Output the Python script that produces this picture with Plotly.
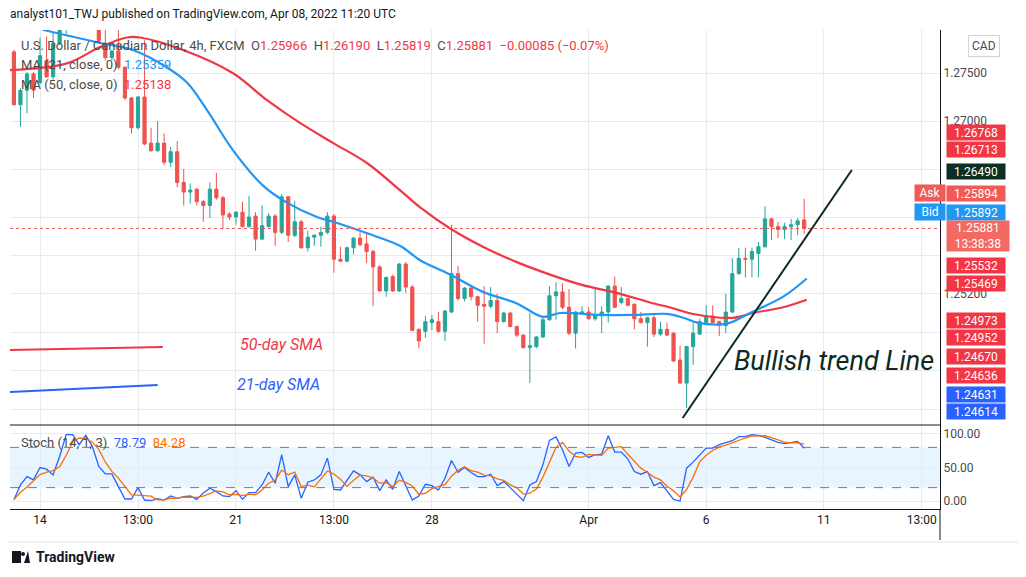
import plotly.graph_objects as go
import pandas as pd

# ---------------- data ----------------
opens = [1.2772,1.2717,1.2732,1.2749,1.2740,1.2763,1.2746,1.2781,1.2797,1.2810,1.2803,1.2816,1.2805,1.2811,1.2781,1.2766,1.2773,1.2756,1.2724,1.2693,
         1.2725,1.2677,1.2669,1.2677,1.2657,1.2668,1.2636,1.2626,1.2629,1.2616,1.2612,1.2629,1.2620,1.2603,1.2600,1.2605,1.2590,1.2601,1.2577,1.2590,
         1.2601,1.2584,1.2621,1.2581,1.2595,1.2568,1.2579,1.2581,1.2584,1.2601,1.2556,1.2554,1.2568,1.2578,1.2572,1.2564,1.2548,1.2523,1.2538,1.2523,
         1.2551,1.2527,1.2483,1.2481,1.2490,1.2491,1.2481,1.2501,1.2541,1.2515,1.2526,1.2517,1.2509,1.2507,1.2513,1.2491,1.2500,1.2486,1.2477,1.2464,
         1.2465,1.2475,1.2493,1.2518,1.2522,1.2506,1.2479,1.2500,1.2501,1.2494,1.2497,1.2501,1.2528,1.2511,1.2515,1.2509,1.2494,1.2490,1.2495,1.2478,
         1.2483,1.2479,1.2451,1.2427,1.2465,1.2478,1.2490,1.2497,1.2491,1.2487,1.2501,1.2541,1.2557,1.2556,1.2562,1.2569,1.2598,1.2590,1.2587,1.2590,
         1.2592,1.2597]
highs = [1.2774,1.2734,1.2751,1.2751,1.2787,1.2788,1.2792,1.2805,1.2816,1.2818,1.2821,1.2821,1.2818,1.2816,1.2795,1.2774,1.2795,1.2757,1.2725,1.2726,
         1.2784,1.2693,1.2700,1.2687,1.2673,1.2679,1.2650,1.2635,1.2630,1.2618,1.2636,1.2646,1.2622,1.2605,1.2606,1.2616,1.2622,1.2605,1.2612,1.2604,
         1.2603,1.2624,1.2622,1.2617,1.2597,1.2586,1.2582,1.2590,1.2605,1.2603,1.2569,1.2569,1.2579,1.2584,1.2584,1.2566,1.2550,1.2538,1.2540,1.2552,
         1.2553,1.2529,1.2484,1.2497,1.2498,1.2501,1.2503,1.2592,1.2549,1.2527,1.2527,1.2518,1.2528,1.2527,1.2520,1.2501,1.2501,1.2487,1.2478,1.2500,
         1.2476,1.2495,1.2528,1.2532,1.2531,1.2525,1.2502,1.2507,1.2506,1.2525,1.2507,1.2529,1.2538,1.2527,1.2516,1.2510,1.2501,1.2496,1.2500,1.2491,
         1.2490,1.2480,1.2466,1.2466,1.2490,1.2494,1.2508,1.2508,1.2492,1.2520,1.2557,1.2568,1.2568,1.2568,1.2574,1.2611,1.2599,1.2595,1.2594,1.2598,
         1.2599,1.2619]
lows = [1.2716,1.2694,1.2708,1.2724,1.2738,1.2745,1.2743,1.2779,1.2790,1.2795,1.2797,1.2800,1.2799,1.2782,1.2763,1.2763,1.2754,1.2722,1.2687,1.2691,
        1.2675,1.2668,1.2668,1.2654,1.2652,1.2631,1.2612,1.2614,1.2612,1.2595,1.2599,1.2618,1.2587,1.2597,1.2592,1.2589,1.2589,1.2565,1.2576,1.2589,
        1.2570,1.2582,1.2574,1.2579,1.2567,1.2564,1.2570,1.2569,1.2582,1.2542,1.2553,1.2553,1.2561,1.2570,1.2552,1.2507,1.2522,1.2517,1.2522,1.2522,
        1.2521,1.2481,1.2463,1.2474,1.2482,1.2479,1.2471,1.2500,1.2513,1.2512,1.2513,1.2491,1.2468,1.2505,1.2479,1.2490,1.2485,1.2475,1.2463,1.2427,
        1.2463,1.2474,1.2492,1.2493,1.2504,1.2477,1.2463,1.2499,1.2493,1.2492,1.2479,1.2490,1.2505,1.2509,1.2507,1.2483,1.2489,1.2465,1.2475,1.2476,
        1.2476,1.2449,1.2426,1.2401,1.2446,1.2477,1.2489,1.2489,1.2476,1.2479,1.2500,1.2540,1.2537,1.2537,1.2537,1.2568,1.2576,1.2578,1.2577,1.2576,
        1.2581,1.2582]
closes = [1.2717,1.2732,1.2749,1.2732,1.2768,1.2746,1.2781,1.2797,1.2810,1.2803,1.2816,1.2805,1.2811,1.2784,1.2766,1.2773,1.2756,1.2724,1.2693,1.2725,
          1.2676,1.2669,1.2677,1.2657,1.2668,1.2636,1.2626,1.2628,1.2616,1.2612,1.2629,1.2620,1.2602,1.2600,1.2605,1.2590,1.2600,1.2577,1.2591,1.2601,
          1.2584,1.2621,1.2581,1.2595,1.2568,1.2579,1.2581,1.2584,1.2601,1.2556,1.2554,1.2568,1.2578,1.2571,1.2564,1.2548,1.2523,1.2537,1.2523,1.2551,
          1.2527,1.2482,1.2471,1.2491,1.2493,1.2481,1.2502,1.2541,1.2515,1.2526,1.2517,1.2508,1.2507,1.2513,1.2491,1.2500,1.2486,1.2477,1.2464,1.2466,
          1.2475,1.2493,1.2518,1.2522,1.2506,1.2479,1.2501,1.2501,1.2494,1.2498,1.2501,1.2528,1.2506,1.2515,1.2508,1.2494,1.2490,1.2495,1.2478,1.2483,
          1.2477,1.2450,1.2427,1.2465,1.2479,1.2491,1.2497,1.2490,1.2487,1.2501,1.2541,1.2557,1.2556,1.2564,1.2569,1.2598,1.2590,1.2587,1.2590,1.2592,
          1.2596,1.25881]

ma21_x = [4.4,12.7,18.2,23.4,26.5,29.6,33.5,38.1,41.8,46.4,48.9,54.1,59.1,62.2,66.8,71.8,77,81,83.6,89.7,94.8,100,102.5,104.6,109.2,112.7,117.8,121.4]
ma21_y = [1.2795,1.2782,1.2774,1.2756,1.2740,1.2711,1.2670,1.2633,1.2615,1.2600,1.2595,1.2583,1.2570,1.2555,1.2540,1.2522,1.2510,1.2496,1.2500,1.2498,1.2498,1.2499,1.2495,1.2490,1.2489,1.2500,1.2517,1.25359]
ma50_x = [-0.6,8.1,13.2,17.3,19.3,25.9,33.5,38.7,43.8,48.9,54.1,59.1,62.2,66.8,71.8,77,82.1,87.1,92.3,97.4,100.9,104,110.1,113.2,117.8,121.4]
ma50_y = [1.2753,1.2760,1.2777,1.2787,1.2787,1.2774,1.2750,1.2722,1.2698,1.2677,1.2656,1.2628,1.2610,1.2588,1.2569,1.2553,1.2540,1.2529,1.2521,1.2511,1.2505,1.2499,1.2495,1.2500,1.2506,1.25138]

stoch_k = [2,24,36.5,31.5,50,47.5,39,66.5,99,99,84,98,81.5,51.5,40.5,40.5,21.5,3,3,20,
           1.5,0.5,3.5,1.5,7.5,4,6.5,7.5,2.5,12,19,14,7.5,6.5,15.5,2.5,12.5,12.5,24,43,
           26.5,69,21.5,39,4,28,31.5,39,64,17.5,16.5,31.5,45,39,29,35.5,15.5,31.5,17.5,44,
           21.5,1.5,7.5,25,23,16.5,34,60.5,43,50,42.5,36.5,36.5,40,23,29,20,10.5,0.5,24,
           29,54,90.5,95.5,76.5,51.5,71.5,72.5,65,69,70,97.5,73,73,63,44,40,44,23,27.5,
           15.5,2.5,0,49,58,68,79,79,84,87,90,96,96,99,98,95,91,87.5,85.5,87,
           89,78.79]

tick_vals = [4,19,34,49,64,88,106,124,139]
tick_text = ["14","13:00","21","13:00","28","Apr","6","11","13:00"]
price_grid = [1.275,1.270,1.265,1.260,1.256,1.252,1.248,1.244,1.240]
price_grid_text = ["1.27500","1.27000","","","","1.25200","","",""]

trend_x = [102.4,128.3]
trend_y = [1.23906,1.26490]
sma50_note_x = [-0.6,22.8]; sma50_note_y = [1.24615,1.24646]
sma21_note_x = [-0.6,22.0]; sma21_note_y = [1.24177,1.24250]

badge_text = ["1.26768","1.26713","1.26490","1.25894","1.25892","1.25532","1.25469","1.24973","1.24952","1.24670","1.24636","1.24631","1.24614"]
badge_pos = [1.26885,1.26708,1.26469,1.26250,1.26052,1.25500,1.25312,1.24917,1.24740,1.24542,1.24354,1.24146,1.23969]
badge_col = ["#f23645","#f23645","#0b2e25","#f05a57","#2196f3","#f23645","#f23645","#f23645","#f23645","#f23645","#f23645","#2962ff","#2962ff"]
last_price = 1.25881

# ---------------- figure ----------------
GREEN = "#26a69a"; RED = "#ef5350"; FONT = "Roboto"
OFF = 8
W, H = 1026 - OFF, 577 - OFF
L, R, T, B = 10, 940, 30, 509

def py(p):
    return (B - p) / (B - T)
def px(p):
    return (p - L) / (R - L)

idx = list(range(len(closes)))
fig = go.Figure()
fig.add_trace(go.Candlestick(x=idx, open=opens, high=highs, low=lows, close=closes,
    increasing=dict(line=dict(color=GREEN, width=1), fillcolor=GREEN),
    decreasing=dict(line=dict(color=RED, width=1), fillcolor=RED),
    whiskerwidth=0, xaxis="x", yaxis="y", showlegend=False, hoverinfo="skip"))
fig.add_trace(go.Scatter(x=ma50_x, y=ma50_y, mode="lines", line=dict(color="#f23645", width=2.2, shape="spline"), xaxis="x", yaxis="y", showlegend=False))
fig.add_trace(go.Scatter(x=ma21_x, y=ma21_y, mode="lines", line=dict(color="#2196f3", width=2.2, shape="spline"), xaxis="x", yaxis="y", showlegend=False))
fig.add_trace(go.Scatter(x=sma50_note_x, y=sma50_note_y, mode="lines", line=dict(color="#f23645", width=2), xaxis="x", yaxis="y", showlegend=False))
fig.add_trace(go.Scatter(x=sma21_note_x, y=sma21_note_y, mode="lines", line=dict(color="#2962ff", width=2), xaxis="x", yaxis="y", showlegend=False))
fig.add_trace(go.Scatter(x=trend_x, y=trend_y, mode="lines", line=dict(color="#0d2a20", width=2), xaxis="x", yaxis="y", showlegend=False))
fig.add_trace(go.Scatter(x=[-0.6, 141.8], y=[last_price, last_price], mode="lines", line=dict(color="#ef5350", width=1, dash="dot"), xaxis="x", yaxis="y", showlegend=False))

stoch_d = pd.Series(stoch_k).rolling(3, min_periods=1).mean().tolist()
fig.add_trace(go.Scatter(x=idx, y=stoch_k, mode="lines", line=dict(color="#2962ff", width=1.3), xaxis="x2", yaxis="y2", showlegend=False))
fig.add_trace(go.Scatter(x=idx, y=stoch_d, mode="lines", line=dict(color="#ff6d00", width=1.3), xaxis="x2", yaxis="y2", showlegend=False))

xr = [-0.6, 141.8]
split = py(425)
fig.update_layout(
    width=W, height=H, margin=dict(l=L - OFF, r=(W + OFF) - R, t=T - OFF, b=(H + OFF) - B),
    paper_bgcolor="white", plot_bgcolor="white", font=dict(family=FONT, size=12, color="#131722"),
    xaxis=dict(domain=[0, 1], anchor="y", range=xr, tickvals=tick_vals, showticklabels=False, showgrid=True,
               gridcolor="#e6ebf2", zeroline=False, rangeslider=dict(visible=False), fixedrange=True),
    xaxis2=dict(domain=[0, 1], anchor="y2", range=xr, tickvals=tick_vals, ticktext=tick_text, showgrid=True,
                gridcolor="#e6ebf2", zeroline=False, ticks="", tickfont=dict(size=12, color="#131722"),
                showline=True, linecolor="#131722", linewidth=1),
    yaxis=dict(domain=[split, 1], range=[1.238333, 1.279479], side="right", tickvals=price_grid, ticktext=price_grid_text,
               gridcolor="#e6ebf2", zeroline=False, showline=True, linecolor="#131722", linewidth=1, ticks="",
               tickfont=dict(size=12, color="#4a4a4a")),
    yaxis2=dict(domain=[0, split], range=[-11.9, 113.4], side="right", tickvals=[0, 50, 100], ticktext=["0.00", "50.00", "100.00"],
                gridcolor="#e6ebf2", zeroline=False, showline=True, linecolor="#131722", linewidth=1, ticks="",
                tickfont=dict(size=12, color="#4a4a4a")),
)
fig.add_shape(type="rect", xref="x2", yref="y2", x0=xr[0], x1=xr[1], y0=20, y1=80, fillcolor="rgba(33,150,243,0.1)", line_width=0, layer="below")
for lv in (20, 80):
    fig.add_shape(type="line", xref="x2", yref="y2", x0=xr[0], x1=xr[1], y0=lv, y1=lv, line=dict(color="#787b86", width=1, dash="dash"))
fig.add_shape(type="line", xref="paper", yref="paper", x0=0, x1=1, y0=split, y1=split, line=dict(color="#131722", width=1))
fig.add_shape(type="line", xref="paper", yref="paper", x0=px(940), x1=px(940), y0=py(540), y1=py(509), line=dict(color="#131722", width=1))

ann = []
ann.append(dict(xref="paper", yref="paper", x=px(8), y=py(14), xanchor="left", yanchor="middle", showarrow=False,
                text="analyst101_TWJ published on TradingView.com, Apr 08, 2022 11:20 UTC", font=dict(size=12, color="#131722")))
red = "#f23645"
ann.append(dict(xref="paper", yref="paper", x=px(19), y=py(46), xanchor="left", yanchor="middle", showarrow=False,
                text=("U.S. Dollar / Canadian Dollar, 4h, FXCM&nbsp;&nbsp;O<span style='color:%s'>1.25966</span>&nbsp;&nbsp;H<span style='color:%s'>1.26190</span>"
                      "&nbsp;&nbsp;L<span style='color:%s'>1.25819</span>&nbsp;&nbsp;C<span style='color:%s'>1.25881&nbsp;&nbsp;−0.00085 (−0.07%%)</span>") % (red, red, red, red),
                font=dict(size=13, color="#4a4a4a")))
ann.append(dict(xref="paper", yref="paper", x=px(19), y=py(65), xanchor="left", yanchor="middle", showarrow=False,
                text="MA (21, close, 0)&nbsp;&nbsp;<span style='color:#2196f3'>1.25359</span>", font=dict(size=13, color="#4a4a4a")))
ann.append(dict(xref="paper", yref="paper", x=px(19), y=py(84), xanchor="left", yanchor="middle", showarrow=False,
                text="MA (50, close, 0)&nbsp;&nbsp;<span style='color:#f23645'>1.25138</span>", font=dict(size=13, color="#4a4a4a")))
ann.append(dict(xref="paper", yref="paper", x=px(19), y=py(442), xanchor="left", yanchor="middle", showarrow=False,
                text="Stoch (14, 1, 3)&nbsp;&nbsp;<span style='color:#2962ff'>78.79</span>&nbsp;&nbsp;<span style='color:#ff6d00'>84.28</span>",
                font=dict(size=13, color="#4a4a4a")))
ann.append(dict(xref="x", yref="y", x=41, y=1.24676, showarrow=False, text="<i>50-day SMA</i>", font=dict(size=16, color="#f23645")))
ann.append(dict(xref="x", yref="y", x=40.5, y=1.24260, showarrow=False, text="<i>21-day SMA</i>", font=dict(size=16, color="#2962ff")))
ann.append(dict(xref="x", yref="y", x=110, y=1.24500, xanchor="left", showarrow=False, text="<i>Bullish trend Line</i>",
                font=dict(size=27, color="#0d2a20")))
for t, p, c in zip(badge_text, badge_pos, badge_col):
    ann.append(dict(xref="paper", yref="y", x=px(946), y=p, xanchor="left", yanchor="middle", showarrow=False,
                    text=t, bgcolor=c, width=56, height=13, borderpad=1, font=dict(size=12, color="white")))
ann.append(dict(xref="paper", yref="y", x=px(946), y=1.25797, xanchor="left", yanchor="middle", showarrow=False,
                text="1.25881<br>13:38:38", bgcolor="#f26a63", width=60, height=28, borderpad=1, font=dict(size=12, color="white")))
ann.append(dict(xref="paper", yref="y", x=px(914), y=1.26250, xanchor="left", yanchor="middle", showarrow=False,
                text="Ask", bgcolor="#f05a57", width=28, height=14, borderpad=1, font=dict(size=12, color="white")))
ann.append(dict(xref="paper", yref="y", x=px(914), y=1.26052, xanchor="left", yanchor="middle", showarrow=False,
                text="Bid", bgcolor="#2196f3", width=28, height=14, borderpad=1, font=dict(size=12, color="white")))
ann.append(dict(xref="paper", yref="paper", x=px(968), y=py(46), xanchor="left", yanchor="middle", showarrow=False,
                text="CAD", bordercolor="#d1d4dc", borderwidth=1, borderpad=3, font=dict(size=12, color="#4a4a4a")))
ann.append(dict(xref="paper", yref="paper", x=px(34), y=py(557), xanchor="left", yanchor="middle", showarrow=False,
                text="<b>TradingView</b>", font=dict(size=14, color="#131722")))
fig.update_layout(annotations=ann)
fig.add_shape(type="rect", xref="paper", yref="paper", x0=px(12), x1=px(21), y0=py(563), y1=py(551), fillcolor="#131722", line_width=0)
fig.add_shape(type="circle", xref="paper", yref="paper", x0=px(21), x1=px(25), y0=py(556), y1=py(552), fillcolor="#131722", line_width=0)
fig.add_shape(type="path", xref="paper", yref="paper", path="M %f %f L %f %f L %f %f Z" % (px(24), py(563), px(28), py(551), px(30), py(563)),
              fillcolor="#131722", line_width=0)
fig.add_shape(type="line", xref="paper", yref="paper", x0=px(8), x1=px(1018), y0=py(542), y1=py(542), line=dict(color="#e0e3eb", width=1))

fig.write_html("out.html")
